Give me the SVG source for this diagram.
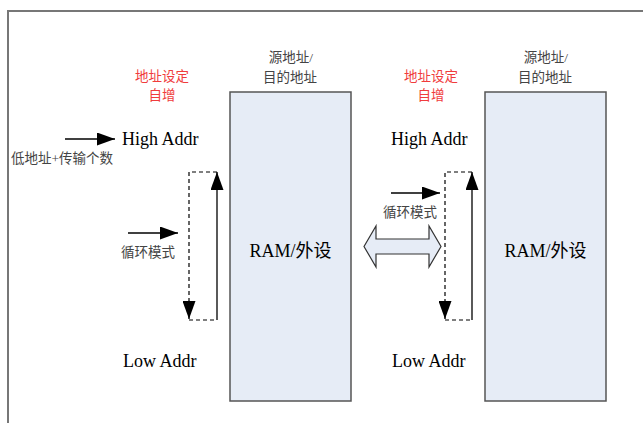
<svg xmlns="http://www.w3.org/2000/svg" width="643" height="423" viewBox="0 0 643 423">
<style>
.frame{fill:none;stroke:#777;stroke-width:2}
.box{fill:#e6ecf6;stroke:#555;stroke-width:1.5}
.ln{fill:none;stroke:#000;stroke-width:1.3}
.dash{fill:none;stroke:#000;stroke-width:1.2;stroke-dasharray:4,3}
.en{font-family:"Liberation Serif","Noto Sans CJK SC",serif;font-size:18px;fill:#000}
.cn{font-family:"Liberation Serif","Noto Sans CJK SC",serif;font-size:13.5px;fill:#444}
.red{font-family:"Liberation Serif","Noto Sans CJK SC",serif;font-size:13.5px;fill:#f03c3c}
.mid{text-anchor:middle}
</style>
<defs>
<marker id="ah" markerUnits="userSpaceOnUse" markerWidth="18" markerHeight="13" refX="18" refY="6.5" orient="auto">
<path d="M0,0 L18,6.5 L0,13 z" fill="#000"/>
</marker>
</defs>
<path class="frame" d="M8,423 L8,11 L643,11"/>
<g id="box1">
<rect class="box" x="230" y="92" width="121" height="309"/>
<text class="en mid" x="290.5" y="257">RAM/外设</text>
<text class="cn mid" x="291" y="62">源地址/</text>
<text class="cn mid" x="290" y="82">目的地址</text>
</g>
<g id="box2">
<rect class="box" x="485" y="92" width="121" height="309"/>
<text class="en mid" x="545.5" y="257">RAM/外设</text>
<text class="cn mid" x="546" y="62">源地址/</text>
<text class="cn mid" x="545" y="82">目的地址</text>
</g>
<g id="labels-left">
<text class="red mid" x="162" y="81">地址设定</text>
<text class="red mid" x="162" y="100">自增</text>
<text class="en" x="122" y="145">High Addr</text>
<text class="cn" x="11" y="163">低地址+传输个数</text>
<text class="cn" x="121" y="257">循环模式</text>
<text class="en" x="123" y="367">Low Addr</text>
</g>
<g id="labels-right">
<text class="red mid" x="431" y="81">地址设定</text>
<text class="red mid" x="431" y="100">自增</text>
<text class="en" x="391" y="145">High Addr</text>
<text class="cn" x="383" y="217">循环模式</text>
<text class="en" x="392" y="367">Low Addr</text>
</g>
<g id="bidir">
<path class="box" d="M364,246.5 L376,226 L376,239 L429,239 L429,226 L441,246.5 L429,267 L429,254 L376,254 L376,267 z" style="stroke:#333;stroke-width:1.2"/>
</g>
<g id="connectors">
<line class="ln" x1="65" y1="139" x2="115" y2="139" marker-end="url(#ah)"/>
<line class="ln" x1="128" y1="233" x2="178" y2="233" marker-end="url(#ah)"/>
<line class="ln" x1="391" y1="193" x2="440" y2="193" marker-end="url(#ah)"/>
<path class="dash" d="M217,172 L189,172 L189,300"/>
<line class="ln" x1="189" y1="300" x2="189" y2="319" marker-end="url(#ah)"/>
<path class="dash" d="M189,320 L217,320"/>
<line class="ln" x1="217" y1="320" x2="217" y2="172" marker-end="url(#ah)"/>
<path class="dash" d="M472,172 L445,172 L445,300"/>
<line class="ln" x1="445" y1="300" x2="445" y2="319" marker-end="url(#ah)"/>
<path class="dash" d="M445,320 L472,320"/>
<line class="ln" x1="472" y1="320" x2="472" y2="172" marker-end="url(#ah)"/>
</g>
</svg>
